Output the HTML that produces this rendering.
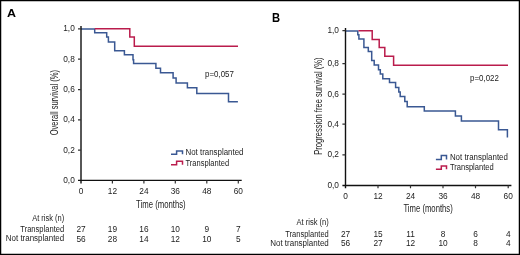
<!DOCTYPE html>
<html><head><meta charset="utf-8"><style>
html,body{margin:0;padding:0;background:#fff;}
body{width:520px;height:255px;overflow:hidden;}
svg{display:block;will-change:transform;}
text{font-family:"Liberation Sans",sans-serif;fill:#222;}
.b{font-weight:bold;fill:#000;}
.t{font-size:8.3px;}
.l{font-size:8.5px;}
.ti{font-size:10.5px;}
.ax{stroke:#111;stroke-width:1.4;fill:none;}
.tk{stroke:#333;stroke-width:1.2;fill:none;}
.bl{stroke:#3a5893;stroke-width:1.5;fill:none;}
.rd{stroke:#ba1c4c;stroke-width:1.5;fill:none;}
</style></head><body>
<svg width="520" height="255" viewBox="0 0 520 255">
<rect x="0" y="0" width="520" height="255" fill="#fff"/>
<rect x="0.6" y="0.6" width="518.8" height="253.8" fill="none" stroke="#000" stroke-width="1.3"/>

<!-- ===== Panel A ===== -->
<text class="b" x="7.1" y="16.9" font-size="11.4" textLength="9" lengthAdjust="spacingAndGlyphs">A</text>

<!-- curves -->
<path class="bl" d="M81 29.1 H94.7 V32.8 H106.7 V37.1 H108.4 V41.9 H114.7 V50.7 H124.4 V54.7 H133 V59.8 H133.6 V63.6 H155.9 V68.3 H160.5 V72.8 H173.1 V78.1 H176.1 V82.9 H187.4 V87.7 H196.8 V93.6 H228.5 V101.8 H237.9"/>
<path class="rd" d="M94.7 28.8 H129.8 V37 H134.3 V46.3 H238"/>

<!-- axes -->
<path class="ax" d="M81 26 V183.6 M78 180.4 H241.7"/>
<path class="tk" d="M78 28.8 H81 M78 59.2 H81 M78 89.6 H81 M78 119.8 H81 M78 150.1 H81 M112.4 180.4 V183.6 M143.9 180.4 V183.6 M175.3 180.4 V183.6 M206.8 180.4 V183.6 M238.3 180.4 V183.6"/>

<g class="t" text-anchor="end">
<text x="74.8" y="31.3">1,0</text>
<text x="74.8" y="61.7">0,8</text>
<text x="74.8" y="92.1">0,6</text>
<text x="74.8" y="122.3">0,4</text>
<text x="74.8" y="152.6">0,2</text>
<text x="74.8" y="182.9">0,0</text>
</g>
<g class="t" text-anchor="middle">
<text x="81" y="194">0</text>
<text x="112.4" y="194">12</text>
<text x="143.9" y="194">24</text>
<text x="175.3" y="194">36</text>
<text x="206.8" y="194">48</text>
<text x="238.3" y="194">60</text>
</g>

<text class="ti" x="136.1" y="207.6" textLength="49.6" lengthAdjust="spacingAndGlyphs">Time (months)</text>
<text class="ti" transform="translate(57.6 135.3) rotate(-90)" x="0" y="0" textLength="65.3" lengthAdjust="spacingAndGlyphs">Overall survival (%)</text>

<text class="l" x="205.1" y="76.5" textLength="28.8" lengthAdjust="spacingAndGlyphs">p=0,057</text>

<!-- legend -->
<path class="bl" d="M171 154.2 H176.6 V151 H182.5 V154.2"/>
<path class="rd" d="M171 164.8 H176.6 V161.3 H182.5 V164.8"/>
<text class="l" x="185.5" y="155.1" textLength="58" lengthAdjust="spacingAndGlyphs">Not transplanted</text>
<text class="l" x="185.5" y="165.8" textLength="43.6" lengthAdjust="spacingAndGlyphs">Transplanted</text>

<!-- at risk -->
<text class="l" x="32.2" y="220.9" textLength="32" lengthAdjust="spacingAndGlyphs">At risk (n)</text>
<text class="l" x="20.3" y="231.9" textLength="43.9" lengthAdjust="spacingAndGlyphs">Transplanted</text>
<text class="l" x="5.8" y="241.4" textLength="58.4" lengthAdjust="spacingAndGlyphs">Not transplanted</text>
<g class="t" text-anchor="middle">
<text x="81" y="231.8">27</text><text x="112.4" y="231.8">19</text><text x="143.9" y="231.8">16</text><text x="175.3" y="231.8">10</text><text x="206.8" y="231.8">9</text><text x="238.3" y="231.8">7</text>
<text x="81" y="241.5">56</text><text x="112.4" y="241.5">28</text><text x="143.9" y="241.5">14</text><text x="175.3" y="241.5">12</text><text x="206.8" y="241.5">10</text><text x="238.3" y="241.5">5</text>
</g>

<!-- ===== Panel B ===== -->
<text class="b" x="271.9" y="21.8" font-size="12" textLength="8.1" lengthAdjust="spacingAndGlyphs">B</text>

<path class="bl" d="M345.5 31.0 H357.8 V34.7 H358.9 V39.1 H363.9 V47.5 H368.3 V51.5 H371.7 V60.5 H374.2 V64.9 H378.5 V69.8 H380.3 V74.1 H382.8 V78.7 H389.5 V82.5 H395.6 V87.5 H398.8 V91.9 H400.2 V96.5 H404.8 V101.6 H407.2 V106.7 H424.3 V111.1 H455.4 V116.0 H461.4 V121.1 H498.5 V129.7 H507.4 V137.6"/>
<path class="rd" d="M358.5 30.8 H372.2 V39.4 H379.2 V47.6 H384.8 V56.2 H393.6 V65.2 H508"/>

<path class="ax" d="M345.5 28 V188.3 M342.4 185.5 H511.4"/>
<path class="tk" d="M342.4 30.7 H345.5 M342.4 63.6 H345.5 M342.4 94.2 H345.5 M342.4 124.2 H345.5 M342.4 154.8 H345.5 M378 185.5 V188.3 M410.5 185.5 V188.3 M443 185.5 V188.3 M475.5 185.5 V188.3 M508.2 185.5 V188.3"/>

<g class="t" text-anchor="end">
<text x="339" y="33.2">1,0</text>
<text x="339" y="66.1">0,8</text>
<text x="339" y="96.7">0,6</text>
<text x="339" y="126.7">0,4</text>
<text x="339" y="157.3">0,2</text>
<text x="339" y="187.9">0,0</text>
</g>
<g class="t" text-anchor="middle">
<text x="345.5" y="199">0</text>
<text x="378" y="199">12</text>
<text x="410.5" y="199">24</text>
<text x="443" y="199">36</text>
<text x="475.5" y="199">48</text>
<text x="508.2" y="199">60</text>
</g>

<text class="ti" x="403.4" y="211.8" textLength="49.4" lengthAdjust="spacingAndGlyphs">Time (months)</text>
<text class="ti" transform="translate(322 154.7) rotate(-90)" x="0" y="0" textLength="97.2" lengthAdjust="spacingAndGlyphs">Progression free survival (%)</text>

<text class="l" x="470.1" y="81" textLength="28.8" lengthAdjust="spacingAndGlyphs">p=0,022</text>

<path class="bl" d="M435.9 159.5 H441.3 V155.5 H446.5 V159.5"/>
<path class="rd" d="M435.9 169.3 H441.3 V166 H446.5 V169.3"/>
<text class="l" x="449.9" y="159.8" textLength="58" lengthAdjust="spacingAndGlyphs">Not transplanted</text>
<text class="l" x="449.9" y="169.7" textLength="43.8" lengthAdjust="spacingAndGlyphs">Transplanted</text>

<text class="l" x="296.5" y="225.4" textLength="32.3" lengthAdjust="spacingAndGlyphs">At risk (n)</text>
<text class="l" x="285.3" y="237" textLength="43.5" lengthAdjust="spacingAndGlyphs">Transplanted</text>
<text class="l" x="270.2" y="246" textLength="58.6" lengthAdjust="spacingAndGlyphs">Not transplanted</text>
<g class="t" text-anchor="middle">
<text x="345.5" y="236.7">27</text><text x="378" y="236.7">15</text><text x="410.5" y="236.7">11</text><text x="443" y="236.7">8</text><text x="475.5" y="236.7">6</text><text x="508.2" y="236.7">4</text>
<text x="345.5" y="245.9">56</text><text x="378" y="245.9">27</text><text x="410.5" y="245.9">12</text><text x="443" y="245.9">10</text><text x="475.5" y="245.9">8</text><text x="508.2" y="245.9">4</text>
</g>
</svg>
</body></html>
